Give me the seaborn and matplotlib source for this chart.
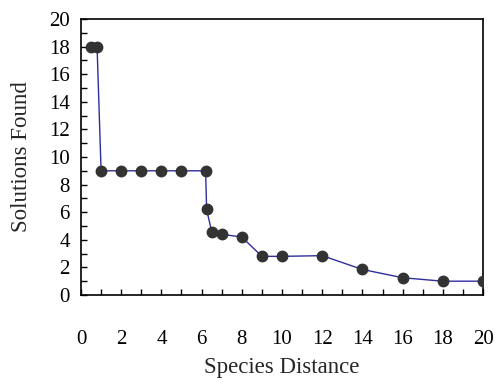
import matplotlib
matplotlib.use("Agg")
import matplotlib.pyplot as plt
import seaborn as sns
import pandas as pd
from matplotlib.ticker import MultipleLocator

species_distance = [0.5, 0.8, 1, 2, 3, 4, 5, 6.2, 6.25, 6.5, 7, 8, 9, 10, 12, 14, 16, 18, 20]
solutions_found = [18, 18, 9, 9, 9, 9, 9, 9, 6.2, 4.6, 4.4, 4.2, 2.8, 2.8, 2.85, 1.85, 1.25, 1.0, 1.0]

df = pd.DataFrame({"Species Distance": species_distance, "Solutions Found": solutions_found})

sns.set_style("white")
plt.rcParams['font.family'] = ['Liberation Serif', 'DejaVu Serif']

fig = plt.figure(figsize=(4.95, 3.84), dpi=100)
ax = fig.add_axes([0.1636, 0.2318, 0.8122, 0.7187])

sns.lineplot(data=df, x="Species Distance", y="Solutions Found", ax=ax,
             color="#2e2ea0", linewidth=1.0, sort=False, zorder=2)
ax.plot(species_distance, solutions_found, linestyle="none", marker="o",
        markersize=7.5, color="#333333", zorder=3)

ax.set_xlim(0, 20)
ax.set_ylim(0, 20)
ax.xaxis.set_major_locator(MultipleLocator(2))
ax.xaxis.set_minor_locator(MultipleLocator(1))
ax.yaxis.set_major_locator(MultipleLocator(2))
ax.yaxis.set_minor_locator(MultipleLocator(1))

for sp in ax.spines.values():
    sp.set_color("black")
    sp.set_linewidth(1.2)

ax.tick_params(axis="x", which="both", direction="in", length=4, width=1,
               bottom=True, top=False, labelsize=15, pad=25, colors="black")
ax.tick_params(axis="y", which="both", direction="in", length=4, width=1,
               left=True, right=False, labelsize=15, pad=8, colors="black")

ax.set_xlabel("Species Distance", fontsize=16.5, labelpad=6)
ax.set_ylabel("Solutions Found", fontsize=16.5, labelpad=12)

fig.savefig("out.png", dpi=100)
